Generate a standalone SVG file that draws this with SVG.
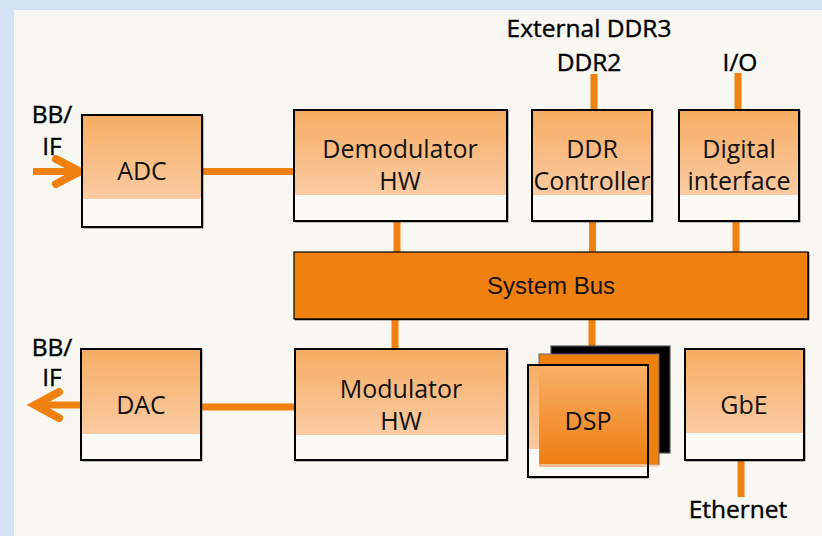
<svg xmlns="http://www.w3.org/2000/svg" width="822" height="536" viewBox="0 0 822 536">
<defs>
<linearGradient id="gl" x1="0" y1="0" x2="0" y2="1">
<stop offset="0" stop-color="#f6ad64"/>
<stop offset="1" stop-color="#fbcba2"/>
</linearGradient>
<linearGradient id="gd" x1="0" y1="0" x2="0" y2="1">
<stop offset="0" stop-color="#f8b068"/>
<stop offset="1" stop-color="#ef7f10"/>
</linearGradient>
</defs>
<style>
.lbl{font-family:"Open Sans","DejaVu Sans",sans-serif;font-size:25px;fill:#111;text-anchor:middle}
.ext{font-family:"Open Sans","DejaVu Sans",sans-serif;font-size:24.5px;fill:#000;text-anchor:middle;stroke:#000;stroke-width:0.4}
.bus{font-family:"Liberation Sans",Arial,sans-serif;font-size:24px;fill:#111;text-anchor:middle}
.box{fill:#fbfaf5;stroke:#000;stroke-width:2}
.grad{fill:url(#gl)}
.sh{fill:none;stroke:#000;stroke-width:1.5}
.c{stroke:#f0800f;stroke-width:7;fill:none}
.ah{stroke:#f0800f;stroke-width:8;fill:none;stroke-linecap:round;stroke-linejoin:miter}
</style>
<rect x="0" y="0" width="822" height="536" fill="#d4e2f5"/>
<rect x="14" y="10" width="808" height="526" fill="#f8f7f2"/>

<g id="connectors">
<line class="c" x1="33" y1="171.5" x2="80" y2="171.5"/>
<polyline class="ah" points="56,159 80,171.5 56,184"/>
<line class="c" x1="202" y1="171.5" x2="294" y2="171.5"/>
<line class="c" x1="594" y1="74" x2="594" y2="109"/>
<line class="c" x1="738" y1="73" x2="738" y2="109"/>
<line class="c" x1="397" y1="221" x2="397" y2="252"/>
<line class="c" x1="592.5" y1="221" x2="592.5" y2="252"/>
<line class="c" x1="736" y1="221" x2="736" y2="252"/>
<line class="c" x1="395" y1="320" x2="395" y2="349"/>
<line class="c" x1="592" y1="320" x2="592" y2="346"/>
<line class="c" x1="83" y1="405" x2="38" y2="405"/>
<polyline class="ah" points="59,392 35,405 59,418"/>
<line class="c" x1="201" y1="407" x2="295" y2="407"/>
<line class="c" x1="741" y1="461" x2="741" y2="497"/>
</g>

<g id="labels-ext">
<text class="ext" x="52" y="123">BB/</text>
<text class="ext" x="52" y="155">IF</text>
<text class="ext" x="52" y="356">BB/</text>
<text class="ext" x="52" y="386">IF</text>
<text class="ext" x="589" y="37">External DDR3</text>
<text class="ext" x="589" y="71">DDR2</text>
<text class="ext" x="740" y="71">I/O</text>
<text class="ext" x="738" y="518">Ethernet</text>
</g>

<g id="adc">
<rect class="box" x="82" y="115" width="120" height="112"/>
<rect class="grad" x="83" y="116" width="118" height="83"/>
<polyline class="sh" points="83,227.5 202.5,227.5 202.5,115"/>
<text class="lbl" x="142" y="180">ADC</text>
</g>

<g id="demodulator">
<rect class="box" x="294" y="110" width="213" height="111"/>
<rect class="grad" x="295" y="111" width="211" height="84"/>
<polyline class="sh" points="295,221.5 507.5,221.5 507.5,110"/>
<text class="lbl" x="400" y="158">Demodulator</text>
<text class="lbl" x="400" y="190">HW</text>
</g>

<g id="ddr-controller">
<rect class="box" x="532" y="110" width="120" height="111"/>
<rect class="grad" x="533" y="111" width="118" height="84"/>
<polyline class="sh" points="533,221.5 652.5,221.5 652.5,110"/>
<text class="lbl" x="592" y="158">DDR</text>
<text class="lbl" x="592" y="190">Controller</text>
</g>

<g id="digital-interface">
<rect class="box" x="679" y="110" width="120" height="111"/>
<rect class="grad" x="680" y="111" width="118" height="84"/>
<polyline class="sh" points="680,221.5 799.5,221.5 799.5,110"/>
<text class="lbl" x="739" y="158">Digital</text>
<text class="lbl" x="739" y="190">interface</text>
</g>

<g id="system-bus">
<rect x="294" y="252" width="514" height="67" fill="#f0800d" stroke="#000" stroke-width="1.2"/>
<polyline class="sh" points="295,319.5 808.5,319.5 808.5,252"/>
<text class="bus" x="551" y="294">System Bus</text>
</g>

<g id="dac">
<rect class="box" x="81" y="349" width="120" height="111"/>
<rect class="grad" x="82" y="350" width="118" height="84"/>
<polyline class="sh" points="82,460.5 201.5,460.5 201.5,349"/>
<text class="lbl" x="141" y="414">DAC</text>
</g>

<g id="modulator">
<rect class="box" x="295" y="349" width="212" height="111"/>
<rect class="grad" x="296" y="350" width="210" height="85"/>
<polyline class="sh" points="296,460.5 507.5,460.5 507.5,349"/>
<text class="lbl" x="401" y="398">Modulator</text>
<text class="lbl" x="401" y="430">HW</text>
</g>

<g id="dsp">
<rect x="551" y="346" width="119" height="107" fill="#000" stroke="#555" stroke-width="1.2"/>
<rect x="539" y="354" width="120" height="111" fill="#f0800d" stroke="#666" stroke-width="1"/>
<line x1="539" y1="465.5" x2="659" y2="465.5" stroke="#fcc6a8" stroke-width="2"/>
<rect x="528" y="365" width="120" height="112" fill="#fbfaf5" stroke="#000" stroke-width="2"/>
<rect x="529" y="366" width="10" height="83" fill="url(#gl)"/>
<rect x="539" y="366" width="109" height="98" fill="url(#gd)"/>
<line x1="539" y1="465.5" x2="648" y2="465.5" stroke="#fbbc94" stroke-width="3"/>
<rect x="528" y="365" width="120" height="112" fill="none" stroke="#000" stroke-width="2"/>
<polyline class="sh" points="529,477.5 648.5,477.5"/>
<text class="lbl" x="588" y="430">DSP</text>
</g>

<g id="gbe">
<rect class="box" x="685" y="349" width="119" height="111"/>
<rect class="grad" x="686" y="350" width="117" height="83"/>
<polyline class="sh" points="686,460.5 804.5,460.5 804.5,349"/>
<text class="lbl" x="744" y="414">GbE</text>
</g>
</svg>
